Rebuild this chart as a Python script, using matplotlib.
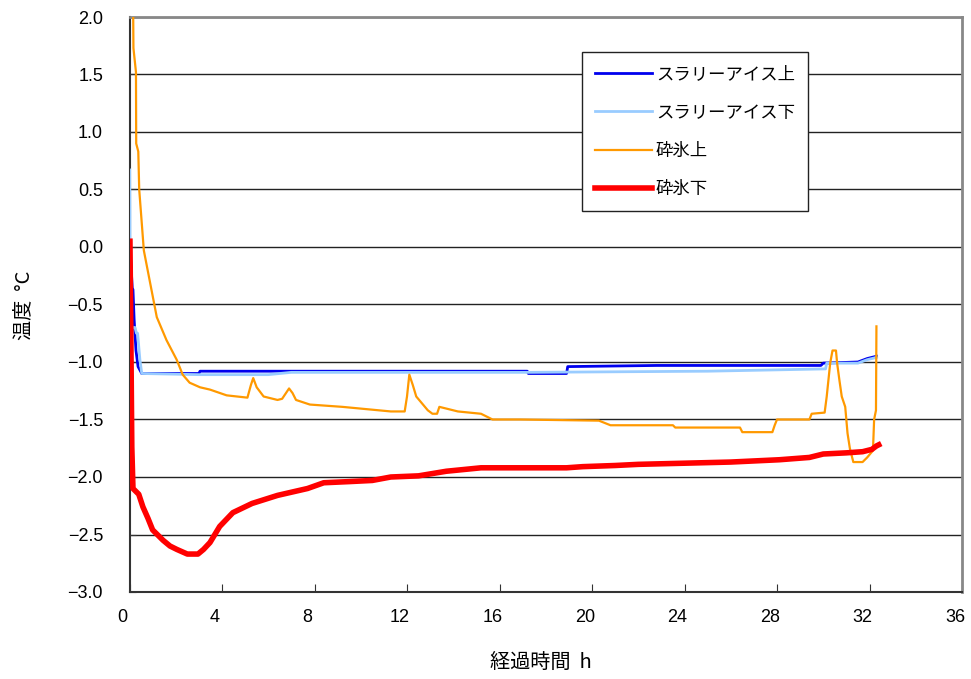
import matplotlib
matplotlib.use("Agg")
import matplotlib.pyplot as plt
import matplotlib.transforms as mtransforms

plt.rcParams['font.family'] = ['Liberation Sans', 'Noto Sans CJK JP', 'DejaVu Sans']
plt.rcParams['axes.unicode_minus'] = True

# ---- data (hours, °C) ----
slurry_top_x = [0.02, 0.12, 0.15, 0.2, 0.28, 0.37, 0.53, 0.6, 3.0, 3.05, 10.0, 17.2, 17.25, 18.9, 18.95, 22.8, 29.9, 30.0, 31.5, 31.9, 32.3]
slurry_top_y = [0.0, -0.36, -0.37, -0.63, -0.9, -1.04, -1.1, -1.1, -1.1, -1.08, -1.08, -1.08, -1.1, -1.1, -1.04, -1.03, -1.03, -1.01, -1.0, -0.97, -0.95]

slurry_bot_x = [0.01, 0.02, 0.03, 0.24, 0.3, 0.35, 0.45, 0.53, 3.0, 6.0, 7.0, 17.2, 25.0, 30.1, 30.15, 31.5, 31.9, 32.3]
slurry_bot_y = [0.67, 0.3, -0.7, -0.7, -0.75, -0.75, -0.98, -1.1, -1.11, -1.11, -1.09, -1.09, -1.08, -1.06, -1.01, -1.01, -0.98, -0.96]

crushed_top_x = [0.15, 0.17, 0.28, 0.29, 0.38, 0.42, 0.62, 0.89, 1.18, 1.6, 2.04, 2.3, 2.6, 3.05, 3.48, 4.2, 5.1, 5.25,
                 5.35, 5.5, 5.8, 6.4, 6.6, 6.9, 7.05, 7.2, 7.8, 9.2, 11.3, 11.9, 12.0, 12.1, 12.25, 12.4, 12.9, 13.1,
                 13.3, 13.4, 14.2, 15.2, 15.7, 16.9, 20.3, 20.8, 23.5, 23.6, 26.4, 26.5, 27.8, 27.9, 28.0, 29.4, 29.5,
                 30.06, 30.15, 30.3, 30.4, 30.55, 30.6, 30.7, 30.8, 30.95, 31.05, 31.15, 31.3, 31.7, 31.9, 32.15, 32.2,
                 32.28, 32.3]
crushed_top_y = [2.3, 1.73, 1.52, 0.9, 0.83, 0.5, -0.03, -0.31, -0.61, -0.81, -0.98, -1.11, -1.18, -1.22, -1.24, -1.29,
                 -1.31, -1.2, -1.14, -1.22, -1.3, -1.33, -1.32, -1.23, -1.27, -1.33, -1.37, -1.39, -1.43, -1.43, -1.3,
                 -1.11, -1.2, -1.3, -1.42, -1.45, -1.45, -1.39, -1.43, -1.45, -1.5, -1.5, -1.51, -1.55, -1.55, -1.57,
                 -1.57, -1.61, -1.61, -1.55, -1.5, -1.5, -1.45, -1.44, -1.3, -1.01, -0.9, -0.9, -1.01, -1.16, -1.3,
                 -1.39, -1.62, -1.75, -1.87, -1.87, -1.83, -1.77, -1.5, -1.42, -0.69]

crushed_bot_x = [0.02, 0.06, 0.1, 0.15, 0.4, 0.58, 0.8, 1.0, 1.2, 1.45, 1.75, 2.05, 2.5, 2.96, 3.2, 3.48, 3.9, 4.47, 5.3,
                 6.4, 7.7, 8.4, 9.5, 10.5, 11.3, 12.5, 13.7, 15.2, 17.0, 18.9, 19.6, 21.0, 22.0, 24.0, 26.0, 28.1, 29.4,
                 30.0, 31.0, 31.7, 32.1, 32.3, 32.4]
crushed_bot_y = [0.05, -0.8, -1.74, -2.1, -2.15, -2.26, -2.36, -2.46, -2.5, -2.55, -2.6, -2.63, -2.67, -2.67, -2.63,
                 -2.57, -2.43, -2.31, -2.23, -2.16, -2.10, -2.05, -2.04, -2.03, -2.0, -1.99, -1.95, -1.92, -1.92, -1.92,
                 -1.91, -1.90, -1.89, -1.88, -1.87, -1.85, -1.83, -1.80, -1.79, -1.78, -1.76, -1.73, -1.72]

labels = ['スラリーアイス上', 'スラリーアイス下', '砕氷上', '砕氷下']
x_ticks = [0, 4, 8, 12, 16, 20, 24, 28, 32, 36]
y_ticks = [2.0, 1.5, 1.0, 0.5, 0.0, -0.5, -1.0, -1.5, -2.0, -2.5, -3.0]

# ---- figure ----
fig = plt.figure(figsize=(9.71, 6.79), dpi=100)
ax = fig.add_axes([129.5 / 971, 1 - 592 / 679, (962 - 129.5) / 971, (592 - 17) / 679])

ax.plot(slurry_top_x, slurry_top_y, color='#0000EE', lw=2.0, label=labels[0], zorder=3)
ax.plot(slurry_bot_x, slurry_bot_y, color='#99CCFF', lw=2.0, label=labels[1], zorder=3)
ax.plot(crushed_top_x, crushed_top_y, color='#FF9900', lw=1.6, label=labels[2], zorder=3)
ax.plot(crushed_bot_x, crushed_bot_y, color='#FF0000', lw=4.0, label=labels[3], zorder=4)

ax.set_xlim(0, 36)
ax.set_ylim(-3.0, 2.0)
ax.set_xticks(x_ticks)
ax.set_xticklabels([str(t) for t in x_ticks])
ax.set_yticks(y_ticks)
ax.set_yticklabels([f"{t:.1f}".replace('-', '\u2212') for t in y_ticks])

ax.yaxis.grid(True, color='#222222', lw=1.0)
ax.xaxis.grid(False)
ax.set_axisbelow(True)

ax.tick_params(axis='both', direction='in', labelsize=13, color='#333333')
ax.tick_params(axis='x', length=6, pad=12)
ax.tick_params(axis='y', length=4, pad=19)

offset = mtransforms.ScaledTranslation(-7 / 100, 0, fig.dpi_scale_trans)
for lab in ax.get_xticklabels():
    lab.set_transform(lab.get_transform() + offset)

for s in ['left', 'bottom']:
    ax.spines[s].set_color('#333333')
    ax.spines[s].set_linewidth(1.5)
for s in ['top', 'right']:
    ax.spines[s].set_color('#888888')
    ax.spines[s].set_linewidth(2.0)

fig.text(541 / 971, 1 - 662 / 679, '経過時間  h', ha='center', va='center', fontsize=14.5,
         family=['Noto Sans CJK JP', 'DejaVu Sans'])
fig.text(24 / 971, 1 - 305 / 679, '温度  °C', ha='center', va='center', rotation=90, fontsize=14.5,
         family=['Noto Sans CJK JP', 'DejaVu Sans'])

leg = ax.legend(loc='upper left', bbox_to_anchor=((582 - 129.5) / 832.5, (592 - 52) / 575),
                frameon=True, fancybox=False, handlelength=3.3, handletextpad=0.2,
                labelspacing=1.18, borderpad=0.75, borderaxespad=0,
                prop={'family': ['Noto Sans CJK JP', 'DejaVu Sans'], 'size': 12.5})
leg.get_frame().set_edgecolor('#222222')
leg.get_frame().set_linewidth(1.0)
leg.get_frame().set_alpha(1)

fig.savefig('out.png', dpi=100, facecolor='white')
